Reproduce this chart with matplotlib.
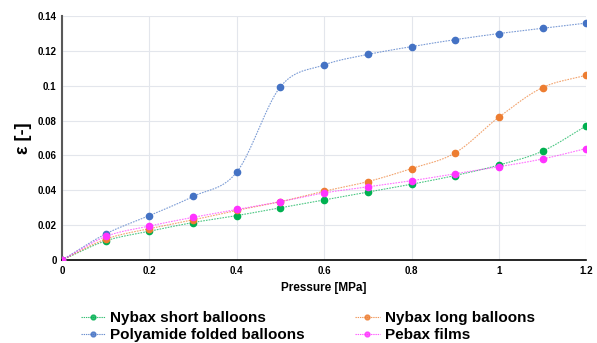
import numpy as np
import matplotlib
matplotlib.use("Agg")
import matplotlib.pyplot as plt

plt.rcParams['font.family'] = ['Liberation Sans', 'DejaVu Sans']

pressure = [0, 0.1, 0.2, 0.3, 0.4, 0.5, 0.6, 0.7, 0.8, 0.9, 1.0, 1.1, 1.2]
nybax_short = [0, 0.011, 0.0165, 0.0215, 0.0255, 0.030, 0.0345, 0.039, 0.0435, 0.0485, 0.0545, 0.0625, 0.077]
nybax_long = [0, 0.012, 0.018, 0.023, 0.0285, 0.0335, 0.0395, 0.045, 0.0525, 0.0615, 0.082, 0.099, 0.106]
polyamide = [0, 0.015, 0.0255, 0.0365, 0.0505, 0.0995, 0.112, 0.118, 0.1225, 0.1265, 0.130, 0.133, 0.136]
pebax = [0, 0.0135, 0.0195, 0.0245, 0.029, 0.0335, 0.0385, 0.042, 0.0455, 0.0495, 0.0535, 0.058, 0.064]

labels = ['Nybax short balloons', 'Nybax long balloons', 'Polyamide folded balloons', 'Pebax films']
colors = ['#00B050', '#ED7D31', '#4472C4', '#FF33FF']


def smooth(x, y, n=20):
    # Catmull-Rom style smoothing for the drawn line only (like Excel smoothed lines)
    x = np.asarray(x, float)
    y = np.asarray(y, float)
    px = np.concatenate([[2 * x[0] - x[1]], x, [2 * x[-1] - x[-2]]])
    py = np.concatenate([[2 * y[0] - y[1]], y, [2 * y[-1] - y[-2]]])
    xs, ys = [], []
    t = np.linspace(0, 1, n, endpoint=False)
    for i in range(1, len(px) - 2):
        for p, out in ((px, xs), (py, ys)):
            p0, p1, p2, p3 = p[i - 1], p[i], p[i + 1], p[i + 2]
            m1 = (p2 - p0) / 2
            m2 = (p3 - p1) / 2
            h00 = 2 * t**3 - 3 * t**2 + 1
            h10 = t**3 - 2 * t**2 + t
            h01 = -2 * t**3 + 3 * t**2
            h11 = t**3 - t**2
            out.extend(h00 * p1 + h10 * m1 + h01 * p2 + h11 * m2)
    xs.append(x[-1])
    ys.append(y[-1])
    return xs, ys


fig = plt.figure(figsize=(5.97, 3.43), dpi=100)
ax = fig.add_axes([0.104, 0.242, 0.878, 0.711])

handles = []
for ys, lab, c in zip([nybax_short, nybax_long, polyamide, pebax], labels, colors):
    sx, sy = smooth(pressure, ys)
    ax.plot(sx, sy, linestyle=(0, (1.5, 1)), color=c, lw=0.8, alpha=0.7)
    ax.plot(pressure, ys, 'o', color=c, ms=4.5, zorder=3)
    h, = ax.plot([], [], linestyle=(0, (1.2, 0.8)), color=c, lw=0.8, marker='o', ms=3.5, alpha=0.8)
    handles.append(h)

ax.set_xlim(0, 1.2)
ax.set_ylim(0, 0.14)
ax.set_xticks(np.arange(0, 1.21, 0.2))
ax.set_xticklabels(['0', '0.2', '0.4', '0.6', '0.8', '1', '1.2'])
ax.set_yticks(np.arange(0, 0.141, 0.02))
ax.set_yticklabels(['0', '0.02', '0.04', '0.06', '0.08', '0.1', '0.12', '0.14'])
ax.grid(True, color='#E3E6EC', lw=0.8)
ax.set_axisbelow(True)
for s in ['top', 'right']:
    ax.spines[s].set_visible(False)
ax.spines['left'].set_color('#595959')
ax.spines['left'].set_linewidth(1.5)
ax.spines['bottom'].set_color('black')
ax.spines['bottom'].set_linewidth(1.2)
ax.tick_params(length=0, labelsize=7, pad=4)
for t in ax.get_xticklabels() + ax.get_yticklabels():
    t.set_fontweight('bold')

ax.set_xlabel('Pressure [MPa]', fontsize=8.5, fontweight='bold', labelpad=5)
ax.set_ylabel('ε [-]', fontsize=13, fontweight='bold', labelpad=4)

leg_font = {'size': 11, 'weight': 'bold'}
leg_kw = dict(loc='upper left', frameon=False, prop=leg_font, handlelength=1.6,
              handletextpad=0.35, labelspacing=0.18, borderpad=0, borderaxespad=0)
fig.legend([handles[0], handles[2]], [labels[0], labels[2]],
           bbox_to_anchor=(0.135, 0.093), **leg_kw)
fig.legend([handles[1], handles[3]], [labels[1], labels[3]],
           bbox_to_anchor=(0.595, 0.093), **leg_kw)

fig.savefig('out.png', dpi=100)
